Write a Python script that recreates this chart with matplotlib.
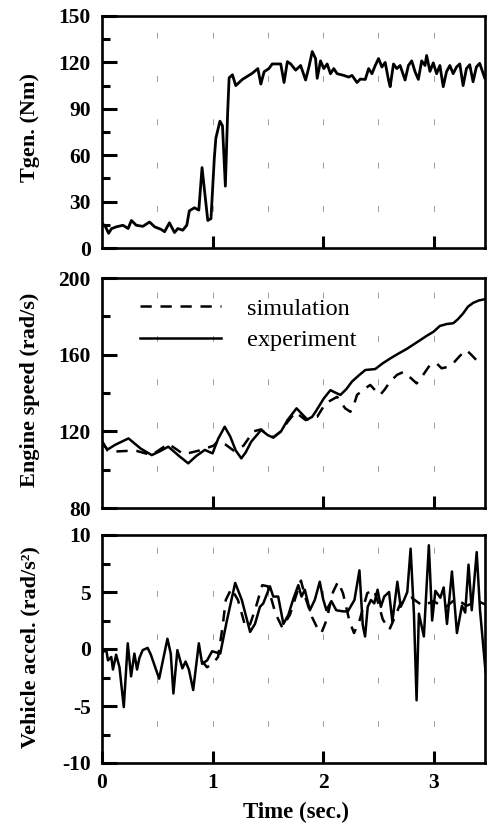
import numpy as np
import matplotlib.pyplot as plt

plt.rcParams['font.family'] = ['Liberation Serif', 'DejaVu Serif']
plt.rcParams['axes.unicode_minus'] = False

# generator torque, measured
t_gen = [0.0, 0.03, 0.06, 0.086, 0.13, 0.19, 0.236, 0.266, 0.31, 0.37, 0.43, 0.476,
         0.536, 0.566, 0.61, 0.656, 0.686, 0.73, 0.767, 0.79, 0.836, 0.876, 0.905,
         0.957, 0.986, 1.016, 1.03, 1.067, 1.09, 1.116, 1.137, 1.15, 1.18, 1.21, 1.27,
         1.36, 1.41, 1.437, 1.467, 1.51, 1.54, 1.617, 1.647, 1.677, 1.707, 1.752, 1.797,
         1.842, 1.872, 1.902, 1.932, 1.947, 1.977, 2.007, 2.037, 2.067, 2.097, 2.127,
         2.187, 2.232, 2.262, 2.307, 2.337, 2.382, 2.412, 2.442, 2.472, 2.502, 2.532,
         2.562, 2.592, 2.607, 2.637, 2.667, 2.697, 2.742, 2.772, 2.802, 2.832, 2.862,
         2.892, 2.922, 2.937, 2.967, 2.997, 3.027, 3.057, 3.087, 3.117, 3.147, 3.177,
         3.207, 3.237, 3.267, 3.297, 3.327, 3.357, 3.387, 3.417, 3.462]
tq_gen = [16, 14, 9.5, 12.5, 13.7, 14.7, 12.6, 17.8, 14.7, 14, 16.8, 13.7,
          12, 10.5, 16.3, 10, 12.6, 11.5, 14.7, 24, 26, 24.5, 52,
          17.8, 19, 58, 71, 82, 79, 40, 88, 110, 112, 105, 109,
          113, 116, 106, 114, 116, 119, 119, 107, 120.5, 119, 115, 118,
          108.6, 117, 127, 122.5, 109.7, 121, 116, 119, 112.7, 116, 112.7,
          111.6, 110.5, 111.6, 107, 109.2, 109, 116, 112.7, 118, 122.5, 117,
          120, 108.6, 104.3, 119, 116, 118, 108.6, 118, 121, 114, 109,
          121, 118, 124.5, 114.2, 119.7, 112.7, 118, 104.3, 114, 118, 112.7,
          117, 119, 105, 116, 118.5, 107.5, 117, 119.4, 110]

# engine speed
t_spd_exp = [0.0, 0.05, 0.12, 0.24, 0.35, 0.45, 0.52, 0.6, 0.7, 0.78, 0.85, 0.93,
             1.0, 1.05, 1.11, 1.16, 1.21, 1.26, 1.3, 1.35, 1.44, 1.5, 1.55, 1.62,
             1.68, 1.76, 1.81, 1.857, 1.9, 1.932, 2.007, 2.067, 2.1, 2.157, 2.21,
             2.262, 2.32, 2.382, 2.472, 2.54, 2.607, 2.68, 2.757, 2.85, 2.937, 3.0,
             3.057, 3.12, 3.178, 3.22, 3.267, 3.31, 3.357, 3.41, 3.47]
spd_exp = [114, 110.5, 113, 116.3, 111, 107.6, 109.5, 112, 107, 103.3, 107, 110.3,
           108.5, 116, 122.4, 117.3, 110, 105.9, 109, 114.6, 120.7, 118, 116.7, 120,
           126, 132, 129, 126.2, 127.5, 130.2, 137.2, 141.5, 140.5, 139, 142,
           146, 149, 152, 152.5, 155.5, 158, 160.5, 163, 166.5, 169.8, 172,
           175, 176, 176.4, 178.5, 181.5, 185, 187, 188.3, 189]
t_spd_sim = [0.0, 0.05, 0.13, 0.3, 0.45, 0.6, 0.74, 0.88, 1.01, 1.05, 1.12, 1.19,
             1.28, 1.37, 1.44, 1.5, 1.55, 1.62, 1.68, 1.75, 1.842, 1.947, 2.022,
             2.127, 2.157, 2.2, 2.247, 2.28, 2.307, 2.37, 2.427, 2.47, 2.517, 2.56,
             2.607, 2.67, 2.727, 2.79, 2.847, 2.9, 2.967, 3.027, 3.072, 3.12, 3.177,
             3.24, 3.297, 3.34, 3.387, 3.47]
spd_sim = [115, 110, 109.5, 110, 107.6, 113.5, 108, 110, 112.5, 115, 113, 110,
           112.5, 120, 121, 118, 117, 120, 125, 130, 125.9, 127.6, 134.6,
           138, 135.5, 132, 130.2, 134, 139, 142, 144.2, 141.5, 139, 142,
           146, 149.5, 151, 148, 145, 149, 154.6, 155.5, 152.9, 153.5, 155.5,
           159.5, 162.4, 160, 157.2, 157]

# vehicle acceleration
t_acc_exp = [0.0, 0.039, 0.054, 0.084, 0.099, 0.128, 0.158, 0.197, 0.233, 0.263, 0.293,
             0.317, 0.338, 0.368, 0.413, 0.442, 0.517, 0.592, 0.622, 0.646, 0.682,
             0.727, 0.756, 0.786, 0.825, 0.876, 0.906, 0.951, 0.996, 1.07, 1.13,
             1.205, 1.265, 1.34, 1.384, 1.429, 1.459, 1.519, 1.549, 1.594, 1.641,
             1.686, 1.731, 1.776, 1.805, 1.835, 1.88, 1.925, 1.97, 2.0, 2.03, 2.075,
             2.12, 2.18, 2.224, 2.284, 2.329, 2.359, 2.38, 2.404, 2.433, 2.463, 2.493,
             2.523, 2.553, 2.597, 2.627, 2.672, 2.702, 2.732, 2.762, 2.792, 2.822,
             2.846, 2.867, 2.912, 2.957, 2.987, 3.016, 3.061, 3.091, 3.121, 3.166,
             3.211, 3.256, 3.286, 3.316, 3.345, 3.39, 3.42, 3.47]
acc_exp = [-0.3, -0.1, -1.0, -0.7, -1.8, -0.5, -1.6, -5.1, 0.5, -2.4, -0.4,
           -1.8, -0.8, -0.1, 0.1, -0.5, -2.6, 0.9, -0.4, -3.9, -0.1,
           -1.7, -1.1, -1.8, -3.6, 0.5, -1.3, -1.0, -0.2, -0.4, 2.5,
           5.8, 4.3, 1.5, 2.2, 3.7, 4.0, 5.5, 4.6, 4.6, 2.2,
           3.0, 4.4, 5.6, 4.6, 5.2, 3.4, 4.3, 5.9, 4.4, 3.4, 4.2,
           3.4, 3.3, 3.3, 4.3, 6.9, 2.1, 1.1, 3.7, 4.3, 4.0, 5.2,
           3.7, 4.6, 5.0, 2.4, 5.9, 3.7, 4.3, 5.0, 8.8, 3.1,
           -4.5, 3.1, 1.1, 9.1, 2.5, 5.1, 4.5, 5.4, 2.2, 6.8,
           1.4, 3.8, 3.2, 7.4, 3.4, 8.5, 3.4, -2.0]
t_acc_sim = [0.9, 0.95, 1.0, 1.05, 1.09, 1.12, 1.17, 1.23, 1.29, 1.33, 1.39, 1.45,
             1.5, 1.57, 1.63, 1.7, 1.8, 1.84, 1.9, 1.94, 1.985, 2.03, 2.09, 2.135,
             2.18, 2.24, 2.28, 2.33, 2.4, 2.46, 2.5, 2.54, 2.6, 2.65, 2.7, 2.8,
             2.9, 3.0, 3.1, 3.2, 3.3, 3.4, 3.47]
acc_sim = [-1.0, -1.6, -1.3, -0.7, 1.9, 4.3, 5.3, 4.3, 2.2, 1.9, 3.6, 5.6,
           5.5, 3.1, 1.9, 3.0, 6.0, 4.5, 2.8, 2.0, 1.4, 2.5, 5.0, 5.9,
           4.9, 2.4, 1.4, 2.5, 4.9, 5.2, 4.0, 2.6, 1.7, 2.8, 4.0, 4.5,
           3.8, 4.2, 3.6, 4.4, 3.8, 4.2, 3.9]

W, H = 488, 825
fig = plt.figure(figsize=(W / 100, H / 100), dpi=100)

left, right = 102 / W, 485 / W
boxes = [(16, 248), (278, 508), (535, 763)]
axs = [fig.add_axes([left, 1 - b / H, right - left, (b - t) / H]) for t, b in boxes]

ylims = [(0, 150), (80, 200), (-10, 10)]
ymajor = [30, 40, 5]
yminor = [15, 20, 2.5]
ylabels = ['Tgen. (Nm)', 'Engine speed (rad/s)', 'Vehicle accel. (rad/s²)']
ylab_y = [127.5, 390, 647.5]

for ax, lim, mj, mn, lab, ly in zip(axs, ylims, ymajor, yminor, ylabels, ylab_y):
    ax.set_xlim(0, 3.465)
    ax.set_ylim(*lim)
    ax.set_yticks(np.arange(lim[0], lim[1] + 0.01, mj))
    ax.set_yticks(np.arange(lim[0], lim[1] + 0.01, mn), minor=True)
    ax.set_xticks([1, 2, 3])
    ax.tick_params(axis='y', which='major', direction='in', length=11, width=2.2,
                   labelsize=15.5, pad=8)
    ax.tick_params(axis='y', which='minor', direction='in', length=6, width=2.2)
    ax.tick_params(axis='x', which='major', direction='in', length=8.5, width=2.2,
                   labelsize=15.5, pad=7, labelbottom=False)
    for lbl in ax.get_yticklabels():
        lbl.set_fontweight('bold')
    for sp in ax.spines.values():
        sp.set_linewidth(1.9)
    # sparse dashed vertical grid
    ax.vlines(np.arange(0.5, 3.01, 0.5), lim[0], lim[1], colors='0.55',
              linewidth=0.6, linestyles=(8, (7, 45)), zorder=0)
    fig.text(30 / W, 1 - ly / H, lab, rotation=90, ha='center', va='center',
             fontsize=16, fontweight='bold')

ax1, ax2, ax3 = axs

ax1.plot(t_gen, tq_gen, color='black', linewidth=2.0)

ax2.plot(t_spd_sim, spd_sim, color='black', linewidth=1.8, dashes=(4.5, 3.5),
         label='simulation')
ax2.plot(t_spd_exp, spd_exp, color='black', linewidth=1.8, label='experiment')
ax2.legend(loc='upper left', bbox_to_anchor=(0.1, 0.915), frameon=False,
           fontsize=17.5, handlelength=3.3, handletextpad=1.1, labelspacing=0.4,
           borderpad=0, borderaxespad=0)

ax3.plot(t_acc_sim, acc_sim, color='black', linewidth=1.8, dashes=(4.5, 3.5))
ax3.plot(t_acc_exp, acc_exp, color='black', linewidth=1.8)
ax3.set_xticks([0, 1, 2, 3])
ax3.tick_params(axis='x', labelbottom=True)
for lbl in ax3.get_xticklabels():
    lbl.set_fontweight('bold')
fig.text(296 / W, 1 - 812 / H, 'Time (sec.)', ha='center', va='center',
         fontsize=16.5, fontweight='bold')

fig.savefig('out.png', dpi=100)
